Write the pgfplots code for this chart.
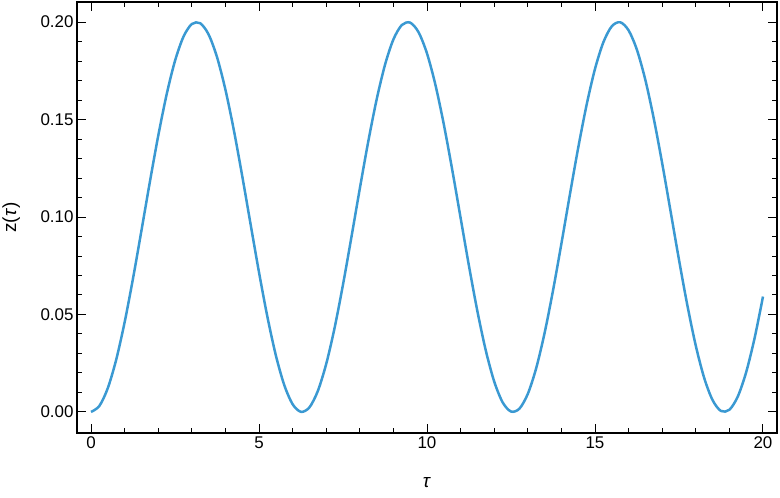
\documentclass[border=0pt]{standalone}
\usepackage{fontspec}
\setmainfont{Liberation Sans}
\usepackage{pgfplots}
\pgfplotsset{compat=1.18}
\definecolor{curve}{RGB}{58,153,210}

\begin{document}
\begin{tikzpicture}
\begin{axis}[
    name=ax,
    scale only axis,
    width=700bp, height=431bp,
    xmin=-0.417, xmax=20.417,
    ymin=-0.0108, ymax=0.2103,
    xtick={0,5,10,15,20},
    minor x tick num=4,
    ytick={0,0.05,0.10,0.15,0.20},
    minor y tick num=4,
    tick align=inside,
    major tick length=9bp,
    minor tick length=5.5bp,
    tick style={black, line width=1pt},
    axis line style={line width=1.1pt},
    xticklabel pos=bottom, yticklabel pos=left,
    yticklabel style={/pgf/number format/.cd, fixed, fixed zerofill, precision=2},
    /pgf/number format/assume math mode=true,
    ticklabel style={font=\fontsize{17}{19}\selectfont},
    xlabel={\textit{τ}},
    ylabel={z(\textit{τ})},
    label style={font=\fontsize{19}{22}\selectfont},
    xlabel style={at={(axis description cs:0.5,-0.116)}, anchor=center},
    ylabel style={at={(axis description cs:-0.094,0.5)}, anchor=center},
]
\addplot[curve, line width=2.5pt, smooth] coordinates {
(0,0) (0.25,0.003109) (0.5,0.012242) (0.75,0.026831) (1,0.045970)
(1.25,0.068468) (1.5,0.092926) (1.75,0.117825) (2,0.141615) (2.25,0.162817)
(2.5,0.180114) (2.75,0.192430) (3,0.198999) (3.25,0.199413) (3.5,0.193646)
(3.75,0.182056) (4,0.165364) (4.25,0.144657) (4.5,0.121080) (4.75,0.096240)
(5,0.071634) (5.25,0.048792) (5.5,0.029133) (5.75,0.013869) (6,0.003983)
(6.25,0.000055) (6.5,0.002341) (6.75,0.010710) (7,0.024610) (7.25,0.043147)
(7.5,0.065337) (7.75,0.089621) (8,0.114550) (8.25,0.138575) (8.5,0.160201)
(8.75,0.178085) (9,0.191113) (9.25,0.198477) (9.5,0.199717) (9.75,0.194758)
(10,0.183907) (10.25,0.167839) (10.5,0.147554) (10.75,0.124311) (11,0.099557)
(11.25,0.074831) (11.5,0.051669) (11.75,0.031513) (12,0.015615) (12.25,0.004963)
(12.5,0.000220) (12.75,0.001681) (13,0.009255) (13.25,0.022471) (13.5,0.040508)
(13.75,0.062243) (14,0.086326) (14.25,0.111259) (14.5,0.135492) (14.75,0.157519)
(15,0.175969) (15.25,0.189695) (15.5,0.197845) (15.75,0.199912) (16,0.195766)
(16.25,0.185666) (16.5,0.170240) (16.75,0.150446) (17,0.127516) (17.25,0.102876)
(17.5,0.078056) (17.75,0.054601) (18,0.033968) (18.25,0.017441) (18.5,0.006048)
(18.75,0.000495) (19,0.001130) (19.25,0.007911) (19.5,0.020419) (19.75,0.037874)
(20,0.059192)
};
\end{axis}
\pgfresetboundingbox
\path[use as bounding box] ([shift={(-77bp,-65bp)}]ax.south west) rectangle ([shift={(3bp,2bp)}]ax.north east);
\end{tikzpicture}
\end{document}
